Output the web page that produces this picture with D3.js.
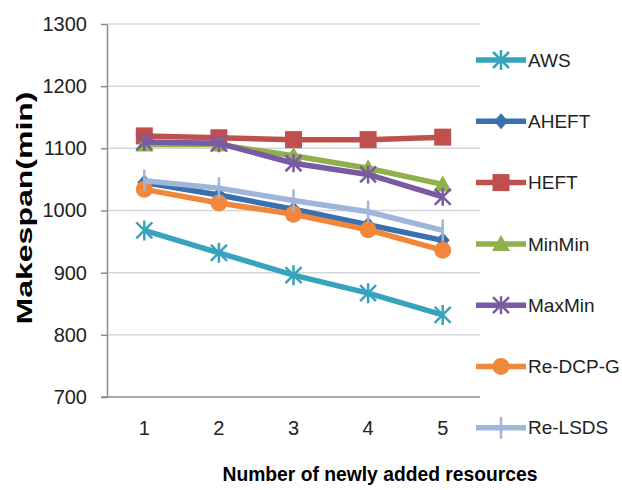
<!DOCTYPE html>
<html lang="en">
<head>
    <meta charset="UTF-8">
    <title>Makespan vs newly added resources</title>
    <script src="https://d3js.org/d3.v7.min.js"></script>
    <style>
        body { margin: 0; background: #fff; }
        svg { font-family: "Liberation Sans", "Noto Sans", sans-serif; }
        .grid line { stroke: #d4d8dc; stroke-width: 1.5; }
        .axis path, .axis line { stroke: #8c8c8c; stroke-width: 1.5; }
        .axis text { fill: #222; font-size: 20px; }
        .legend text { fill: #222; font-size: 19px; }
    </style>
</head>
<body>
    <svg width="622" height="490"></svg>

    <script>
        const categories = ['1', '2', '3', '4', '5'];
        const yTicks = [700, 800, 900, 1000, 1100, 1200, 1300];

        const seriesNames = ['AWS', 'AHEFT', 'HEFT', 'MinMin', 'MaxMin', 'Re-DCP-G', 'Re-LSDS'];
        const aws = [968, 932, 896, 867, 832];
        const aheft = [1045, 1025, 1002, 977, 952];
        const heft = [1120, 1117, 1114, 1114, 1118];
        const minMin = [1106, 1106, 1088, 1068, 1042];
        const maxMin = [1110, 1108, 1076, 1058, 1022];
        const reDcpG = [1034, 1012, 994, 969, 936];
        const reLsds = [1048, 1036, 1016, 998, 968];

        const colors = ['#37a3bd', '#3a6fb0', '#c0504d', '#8fb04a', '#7a5ba3', '#f0873a', '#9fb5da'];
        const markers = ['asterisk', 'diamond', 'square', 'triangle', 'cross', 'circle', 'plus'];

        const series = seriesNames.map((name, i) => ({
            name,
            values: [aws, aheft, heft, minMin, maxMin, reDcpG, reLsds][i],
            color: colors[i],
            marker: markers[i]
        }));

        const svg = d3.select('svg');
        const margin = { top: 24, right: 142, bottom: 93, left: 107 };
        const width = 622, height = 490;

        const x = d3.scaleBand()
            .domain(categories)
            .range([margin.left, width - margin.right]);

        const y = d3.scaleLinear()
            .domain([700, 1300])
            .range([height - margin.bottom, margin.top]);

        // gridlines
        svg.append('g')
            .attr('class', 'grid')
            .selectAll('line')
            .data(yTicks.slice(1))
            .enter().append('line')
            .attr('x1', margin.left)
            .attr('x2', width - margin.right)
            .attr('y1', d => y(d))
            .attr('y2', d => y(d));

        // y axis
        svg.append('g')
            .attr('class', 'axis')
            .attr('transform', `translate(${margin.left},0)`)
            .call(d3.axisLeft(y).tickValues(yTicks).tickFormat(d3.format('d'))
                .tickSize(6).tickSizeOuter(0).tickPadding(14));

        // x axis
        const xAxis = svg.append('g')
            .attr('class', 'axis')
            .attr('transform', `translate(0,${height - margin.bottom})`)
            .call(d3.axisBottom(x).tickSize(0).tickPadding(24));
        xAxis.select('.domain').attr('d', `M${margin.left - 6},0H${width - margin.right}`);

        // lines and markers
        const line = d3.line()
            .x((d, i) => x(categories[i]) + x.bandwidth() / 2)
            .y(d => y(d));

        function drawMarker(g, type, color) {
            if (type === 'asterisk') {
                g.append('path').attr('d', 'M-8,-8L8,8M-8,8L8,-8M0,-10V10')
                    .attr('stroke', color).attr('stroke-width', 2.5).attr('fill', 'none');
            } else if (type === 'cross') {
                g.append('path').attr('d', 'M-8,-8L8,8M-8,8L8,-8M0,-9V9')
                    .attr('stroke', color).attr('stroke-width', 2.5).attr('fill', 'none');
            } else if (type === 'plus') {
                g.append('path').attr('d', 'M0,-11V11')
                    .attr('stroke', color).attr('stroke-width', 2.5).attr('fill', 'none');
            } else if (type === 'square') {
                g.append('rect').attr('x', -8.5).attr('y', -8.5).attr('width', 17).attr('height', 17)
                    .attr('fill', color);
            } else if (type === 'diamond') {
                g.append('path').attr('d', 'M0,-8L7,0L0,8L-7,0Z').attr('fill', color);
            } else if (type === 'triangle') {
                g.append('path').attr('d', 'M0,-9L9,7H-9Z').attr('fill', color);
            } else if (type === 'circle') {
                g.append('circle').attr('r', 8.5).attr('fill', color);
            }
        }

        const plot = svg.append('g');
        series.forEach(s => {
            plot.append('path')
                .datum(s.values)
                .attr('fill', 'none')
                .attr('stroke', s.color)
                .attr('stroke-width', 5.5)
                .attr('d', line);
            s.values.forEach((v, i) => {
                const g = plot.append('g')
                    .attr('transform', `translate(${x(categories[i]) + x.bandwidth() / 2},${y(v)})`);
                drawMarker(g, s.marker, s.color);
            });
        });

        // legend
        const legend = svg.append('g').attr('class', 'legend');
        series.forEach((s, i) => {
            const ly = 60 + i * 61.3;
            const g = legend.append('g').attr('transform', `translate(476,${ly})`);
            g.append('line').attr('x1', 0).attr('x2', 50).attr('y1', 0).attr('y2', 0)
                .attr('stroke', s.color).attr('stroke-width', 5.5);
            const m = g.append('g').attr('transform', 'translate(25,0)');
            drawMarker(m, s.marker, s.color);
            g.append('text').attr('x', 52).attr('y', 0).attr('dy', '0.35em').text(s.name);
        });

        // axis titles
        svg.append('text')
            .attr('transform', 'translate(32,208) rotate(-90)')
            .style('text-anchor', 'middle')
            .style('font-weight', 'bold')
            .style('font-size', '22px')
            .attr('textLength', 233)
            .attr('lengthAdjust', 'spacingAndGlyphs')
            .text('Makespan(min)');

        svg.append('text')
            .attr('x', 380)
            .attr('y', 481)
            .style('text-anchor', 'middle')
            .style('font-weight', 'bold')
            .style('font-size', '21px')
            .attr('textLength', 315)
            .attr('lengthAdjust', 'spacingAndGlyphs')
            .text('Number of newly added resources');
    </script>
</body>
</html>
